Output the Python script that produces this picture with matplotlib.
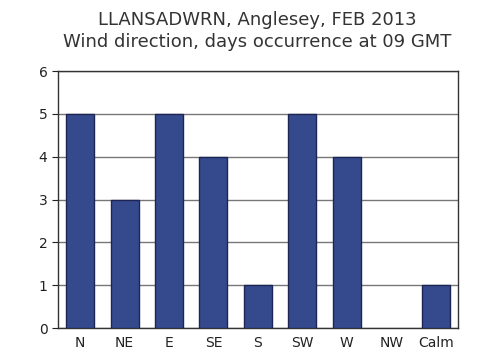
import matplotlib
matplotlib.use("Agg")
import matplotlib.pyplot as plt
import numpy as np

# wind direction counts, days at 09 GMT
directions = ["N", "NE", "E", "SE", "S", "SW", "W", "NW", "Calm"]
days = [5, 3, 5, 4, 1, 5, 4, 0, 1]

fig = plt.figure(figsize=(4.82, 3.63), dpi=100)
ax = fig.add_axes([0.120, 0.0964, 0.830, 0.708])

x = np.arange(len(directions))
edges = ["#1c2554" if d > 0 else "none" for d in days]
ax.bar(x, days, width=0.63, color="#354a8c", edgecolor=edges, linewidth=1.0, zorder=3)

ax.set_xlim(-0.5, len(directions) - 0.5)
ax.set_ylim(0, 6)
ax.set_yticks(range(0, 7))
ax.set_xticks(x)
ax.set_xticklabels(directions)
ax.yaxis.grid(True, color="#777777", linewidth=1.0, zorder=0)
ax.tick_params(axis="x", length=0, pad=6, labelsize=10, colors="#222222")
ax.tick_params(axis="y", length=4, width=0.8, labelsize=10, colors="#222222")
for s in ax.spines.values():
    s.set_color("#333333")
    s.set_linewidth(1.0)

fig.text(0.533, 0.945, "LLANSADWRN, Anglesey, FEB 2013", ha="center", va="center",
         fontsize=13, color="#333333")
fig.text(0.533, 0.883, "Wind direction, days occurrence at 09 GMT", ha="center", va="center",
         fontsize=13, color="#333333")

fig.savefig("out.png", dpi=100)
